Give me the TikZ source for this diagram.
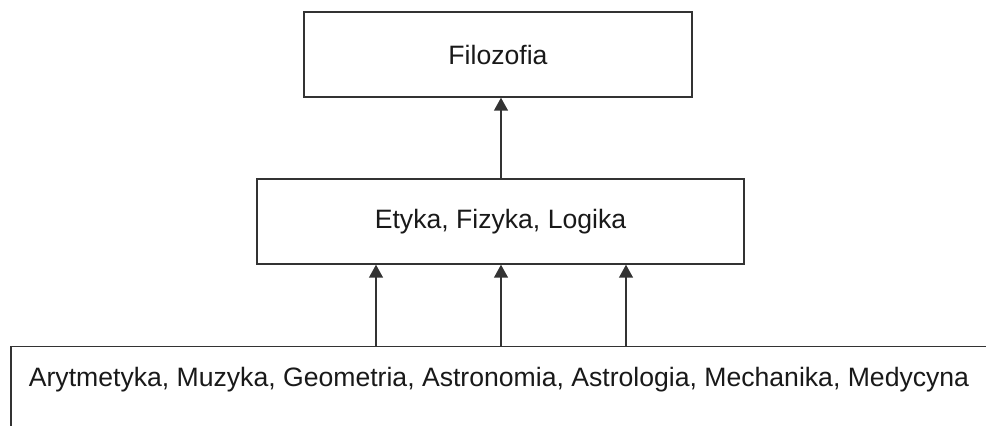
\documentclass[tikz,border=0pt]{standalone}
\usepackage{fontspec}
\setmainfont{Liberation Sans}
\usetikzlibrary{arrows.meta}
\begin{document}
\begin{tikzpicture}[x=1pt,y=1pt,
  every node/.style={font=\fontsize{26.6}{32}\selectfont, text=black!90},
  box/.style={draw=black!80, line width=1.5pt, inner sep=0pt, fill=white},
  link/.style={draw=black!80, line width=1.5pt, -{Triangle[width=14pt,length=13pt]}}]
  \useasboundingbox (0,0) rectangle (986,426);
  \clip (0,0) rectangle (986,426);
  % top level
  \node[box, minimum width=388pt, minimum height=85pt] (fil) at (498,371.5) {Filozofia};
  % middle level
  \node[box, minimum width=487pt, minimum height=85pt] (mid) at (500.5,204.5) {Etyka, Fizyka, Logika};
  % bottom level, running past the page edge
  \node[box, minimum width=1000pt, minimum height=120pt, anchor=north west] (bot) at (10,80) {};
  \node (bottxt) at (499,46) {Arytmetyka, Muzyka, Geometria, Astronomia, Astrologia, Mechanika, Medycyna};
  % connectors
  \draw[link] (mid.north -| fil.south) ++(3,0) coordinate (m0) -- (m0 |- fil.south);
  \coordinate (a1) at (376,80);
  \coordinate (a2) at (501,80);
  \coordinate (a3) at (626,80);
  \draw[link] (a1) -- (a1 |- mid.south);
  \draw[link] (a2) -- (a2 |- mid.south);
  \draw[link] (a3) -- (a3 |- mid.south);
\end{tikzpicture}
\end{document}
